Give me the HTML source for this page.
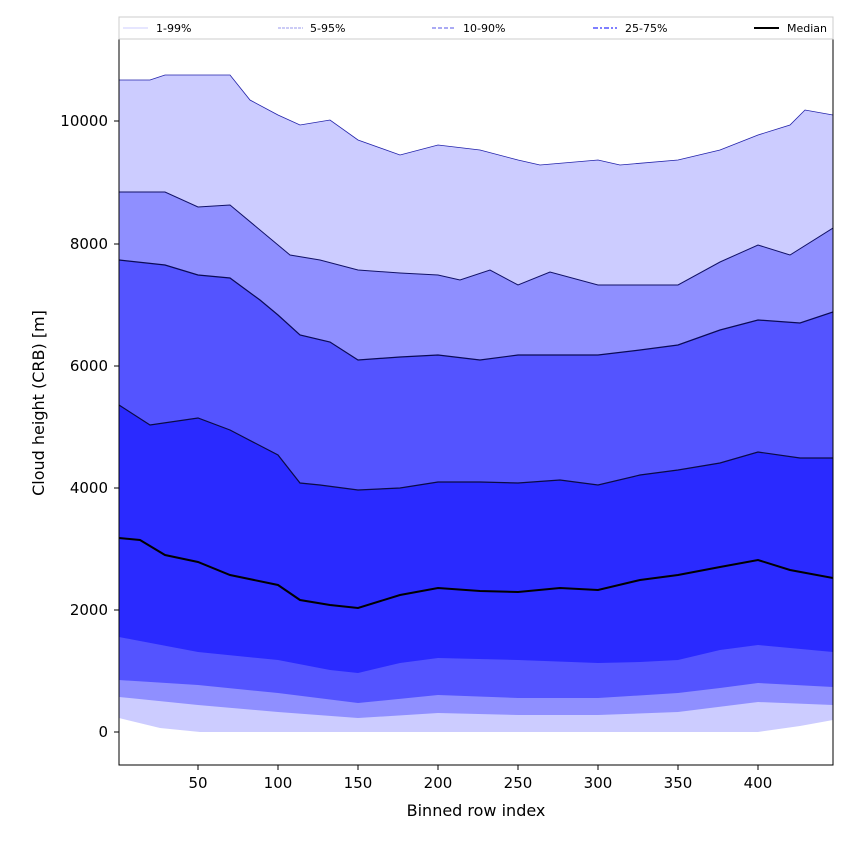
<!DOCTYPE html>
<html><head><meta charset="utf-8"><style>
html,body{margin:0;padding:0;background:#fff;}
svg{display:block;font-family:"DejaVu Sans","Liberation Sans",sans-serif;}
</style></head><body>
<svg width="850" height="850" viewBox="0 0 850 850" xmlns="http://www.w3.org/2000/svg">
<rect width="850" height="850" fill="#fff"/>
<defs><clipPath id="c"><rect x="119" y="39" width="714" height="726"/></clipPath></defs>
<g clip-path="url(#c)">
<polygon fill="#ccccff" points="119,80 150,80 165,75 198,75 230,75 250,100 278,115 300,125 330,120 358,140 400,155 438,145 480,150 518,160 540,165 598,160 620,165 678,160 720,150 758,135 790,125 805,110 833,115 833,720 800,726 758,732 200,732 160,728 119,718"/>
<polygon fill="#8f8fff" points="119,192 165,192 198,207 230,205 278,245 290,255 320,260 358,270 400,273 438,275 460,280 490,270 518,285 550,272 598,285 640,285 678,285 720,262 758,245 790,255 833,228 833,705 758,702 678,712 598,715 518,715 438,713 358,718 278,712 198,705 119,697"/>
<polygon fill="#5454ff" points="119,260 165,265 198,275 230,278 260,300 278,315 300,335 330,342 358,360 400,357 438,355 480,360 518,355 550,355 598,355 640,350 678,345 720,330 758,320 800,323 833,312 833,687 758,683 720,688 678,693 598,698 518,698 438,695 358,703 278,693 198,685 119,680"/>
<polygon fill="#2a2aff" points="119,405 150,425 198,418 230,430 278,455 300,483 320,485 358,490 400,488 438,482 480,482 518,483 560,480 598,485 640,475 678,470 720,463 758,452 800,458 833,458 833,652 758,645 720,650 678,660 640,662 598,663 518,660 438,658 400,663 358,673 330,670 278,660 198,652 119,637"/>
<polyline fill="none" stroke="#2222aa" stroke-width="0.8" points="119,80 150,80 165,75 198,75 230,75 250,100 278,115 300,125 330,120 358,140 400,155 438,145 480,150 518,160 540,165 598,160 620,165 678,160 720,150 758,135 790,125 805,110 833,115"/>
<polyline fill="none" stroke="#111166" stroke-width="1" points="119,192 165,192 198,207 230,205 278,245 290,255 320,260 358,270 400,273 438,275 460,280 490,270 518,285 550,272 598,285 640,285 678,285 720,262 758,245 790,255 833,228"/>
<polyline fill="none" stroke="#0a0a55" stroke-width="1.2" points="119,260 165,265 198,275 230,278 260,300 278,315 300,335 330,342 358,360 400,357 438,355 480,360 518,355 550,355 598,355 640,350 678,345 720,330 758,320 800,323 833,312"/>
<polyline fill="none" stroke="#0a0a44" stroke-width="1.2" points="119,405 150,425 198,418 230,430 278,455 300,483 320,485 358,490 400,488 438,482 480,482 518,483 560,480 598,485 640,475 678,470 720,463 758,452 800,458 833,458"/>
<polyline fill="none" stroke="#000" stroke-width="2" points="119,538 140,540 165,555 198,562 230,575 278,585 300,600 330,605 358,608 400,595 438,588 480,591 518,592 560,588 598,590 640,580 678,575 720,567 758,560 790,570 833,578"/>
</g>
<rect x="119" y="39" width="714" height="726" fill="none" stroke="#000" stroke-width="1"/>
<rect x="119" y="17" width="714" height="22" fill="#fff" stroke="#ccc" stroke-width="1"/>
<g font-size="11" fill="#000">
<line x1="123" y1="28" x2="148" y2="28" stroke="#ccccff" stroke-width="1"/><text x="156" y="32">1-99%</text>
<line x1="278" y1="28" x2="303" y2="28" stroke="#9999ee" stroke-width="1" stroke-dasharray="3,1"/><text x="310" y="32">5-95%</text>
<line x1="432" y1="28" x2="456" y2="28" stroke="#7777ee" stroke-width="1.3" stroke-dasharray="4,2"/><text x="463" y="32">10-90%</text>
<line x1="593" y1="28" x2="617" y2="28" stroke="#5555ff" stroke-width="1.5" stroke-dasharray="5,2,2,2"/><text x="625" y="32">25-75%</text>
<line x1="754" y1="28" x2="779" y2="28" stroke="#000" stroke-width="2"/><text x="787" y="32">Median</text>
</g>
<g stroke="#000" stroke-width="1">
<line x1="198" y1="765" x2="198" y2="770"/><line x1="278" y1="765" x2="278" y2="770"/><line x1="358" y1="765" x2="358" y2="770"/><line x1="438" y1="765" x2="438" y2="770"/><line x1="518" y1="765" x2="518" y2="770"/><line x1="598" y1="765" x2="598" y2="770"/><line x1="678" y1="765" x2="678" y2="770"/><line x1="758" y1="765" x2="758" y2="770"/>
<line x1="114" y1="732" x2="119" y2="732"/><line x1="114" y1="610" x2="119" y2="610"/><line x1="114" y1="488" x2="119" y2="488"/><line x1="114" y1="366" x2="119" y2="366"/><line x1="114" y1="244" x2="119" y2="244"/><line x1="114" y1="121" x2="119" y2="121"/>
</g>
<g font-size="15" fill="#000" text-anchor="middle">
<text x="198" y="788">50</text><text x="278" y="788">100</text><text x="358" y="788">150</text><text x="438" y="788">200</text><text x="518" y="788">250</text><text x="598" y="788">300</text><text x="678" y="788">350</text><text x="758" y="788">400</text>
<text x="476" y="816" font-size="16">Binned row index</text>
</g>
<g font-size="15" fill="#000" text-anchor="end">
<text x="108" y="737">0</text><text x="108" y="615">2000</text><text x="108" y="493">4000</text><text x="108" y="371">6000</text><text x="108" y="249">8000</text><text x="108" y="126">10000</text>
</g>
<text transform="translate(44,403) rotate(-90)" font-size="16" text-anchor="middle">Cloud height (CRB) [m]</text>
</svg>
</body></html>
